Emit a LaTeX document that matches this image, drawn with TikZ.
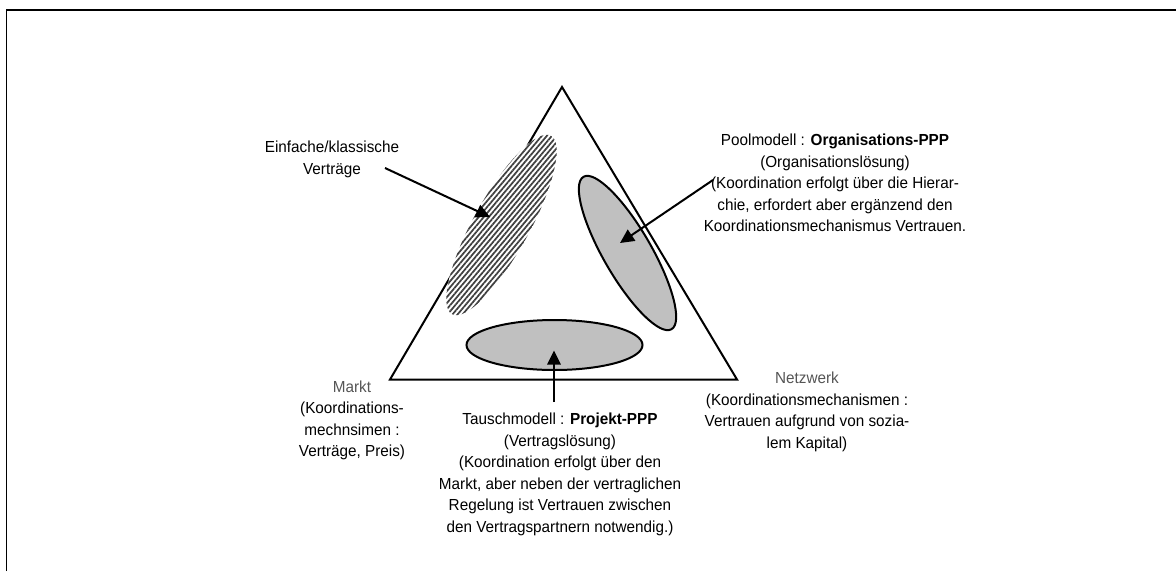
\documentclass[tikz,border=0pt]{standalone}
\usepackage{fontspec}
\setmainfont{Liberation Sans}[FakeStretch=0.955]
\usetikzlibrary{arrows.meta,patterns.meta}
\definecolor{shade}{HTML}{C0C0C0}
\definecolor{labelgray}{HTML}{555555}
\definecolor{hatchgray}{HTML}{404040}
\begin{document}
\begin{tikzpicture}[x=0.75pt,y=-0.75pt,
  txt/.style={font=\fontsize{12pt}{16.1pt}\selectfont, align=center, inner sep=0pt, anchor=north},
  outline/.style={line width=1.5pt, line join=miter},
  ptr/.style={line width=1.5pt, -{Triangle[length=10.5pt,width=10pt]}},
  blob/.style={draw=black, line width=1.5pt, fill=shade}]
\useasboundingbox (0,0) rectangle (1176,571);
% frame (top and left edges)
\draw[line width=1.3pt] (6.5,571) -- (6.5,10) -- (1176,10);

% corners of the triangle
\coordinate (apex) at (562,87);
\coordinate (bl) at (390,379.5);
\coordinate (br) at (737,379.5);
\draw[outline] (apex) -- (br) -- (bl) -- cycle;

% regions
\coordinate (cHatch) at (501.5,225);
\coordinate (cPool) at (627.5,253);
\coordinate (cTausch) at (554.5,345);
\fill[white, rotate around={61:(cHatch)}] (cHatch) ellipse [x radius=76.5pt, y radius=21pt];
\fill[pattern={Lines[angle=50,distance=2.9pt,line width=1.3pt]}, pattern color=hatchgray,
      rotate around={61:(cHatch)}] (cHatch) ellipse [x radius=76.5pt, y radius=21pt];
\path[blob, rotate around={-60:(cPool)}] (cPool) ellipse [x radius=66pt, y radius=18pt];
\path[blob] (cTausch) ellipse [x radius=66pt, y radius=18.75pt];

% labels
\node[txt] (einf) at (332,141) {Einfache/klassische\\Verträge};
\node[txt] (pool) at (835,134) {Poolmodell : \textbf{Organisations-PPP}\\(Organisationslösung)\\(Koordination erfolgt über die Hierar-\\chie, erfordert aber ergänzend den\\Koordinationsmechanismus Vertrauen.};
\node[txt] (markt) at (352,380.5) {\textcolor{labelgray}{Markt}\\(Koordinations-\\mechnsimen :\\Verträge, Preis)};
\node[txt] (netz) at (807,372) {\textcolor{labelgray}{Netzwerk}\\(Koordinationsmechanismen :\\Vertrauen aufgrund von sozia-\\lem Kapital)};
\node[txt] (tausch) at (560,413) {Tauschmodell : \textbf{Projekt-PPP}\\(Vertragslösung)\\(Koordination erfolgt über den\\Markt, aber neben der vertraglichen\\Regelung ist Vertrauen zwischen\\den Vertragspartnern notwendig.)};

% pointers
\coordinate (s1) at (385,168);
\coordinate (e1) at (490,217);
\coordinate (s2) at (713,180);
\coordinate (e2) at (620,243);
\coordinate (s3) at (554,402);
\coordinate (e3) at (554,350.5);
\draw[ptr] (s1) -- (e1);
\draw[ptr] (s2) -- (e2);
\draw[ptr] (s3) -- (e3);
\end{tikzpicture}
\end{document}
